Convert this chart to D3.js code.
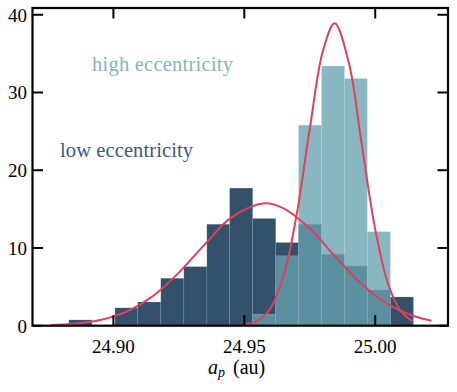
<!DOCTYPE html>
<html>
<head>
<meta charset="utf-8">
<script src="https://cdn.jsdelivr.net/npm/d3@7"></script>
<style>
  body { margin: 0; background: #fff; }
  svg text { font-family: "Liberation Serif", "DejaVu Serif", serif; }
</style>
</head>
<body>
<div id="chart"></div>
<script>
// histogram bin edges (au)
var binEdges = [24.883, 24.8918, 24.9006, 24.9093, 24.9181, 24.9269, 24.9357, 24.9444,
                24.9532, 24.962, 24.9707, 24.9795, 24.9883, 24.997, 25.0058, 25.0146];
// density values per bin
var lowEcc  = [0.75, 0, 2.3, 3.05, 6.1, 7.6, 13.05, 17.7, 13.8, 10.7, 13.05, 9.2, 7.7, 4.6, 3.7];
var highEcc = [0, 0, 0, 0, 0, 0, 0, 0, 1.5, 9.0, 25.8, 33.4, 31.8, 12.1, 0];

// fitted curves
var lowFitX  = [24.876, 24.885, 24.895, 24.905, 24.915, 24.925, 24.935, 24.945, 24.9577,
                24.965, 24.975, 24.985, 24.995, 25.005, 25.015, 25.0215];
var lowFitY  = [0.09, 0.25, 0.73, 1.8, 3.79, 6.83, 10.5, 13.9, 15.75,
                15.1, 12.5, 8.8, 5.31, 2.74, 1.21, 0.65];
var highFitX = [24.9495, 24.955, 24.96, 24.965, 24.97, 24.975, 24.98, 24.9845,
                24.99, 24.995, 25.0, 25.005, 25.01, 25.0143];
var highFitY = [0.12, 0.62, 2.25, 6.39, 14.3, 25.3, 35.3, 38.9,
                33.7, 23.0, 12.4, 5.29, 1.77, 0.57];

var xTicks = [24.90, 24.95, 25.00];
var yTicks = [0, 10, 20, 30, 40];

var W = 457, H = 392;
var m = {left: 32.5, right: 448, top: 8, bottom: 325.7};

var svg = d3.select("#chart").append("svg").attr("width", W).attr("height", H);

var x = d3.scaleLinear().domain([24.8691, 25.0278]).range([m.left, m.right]);
var y = d3.scaleLinear().domain([0, 40.87]).range([m.bottom, m.top]);

var dark = "#34516c", light = "rgb(103,162,176)", red = "#e0405a";

var bins = d3.range(lowEcc.length);

svg.append("g").selectAll("rect").data(bins).enter().append("rect")
    .attr("x", function(i) { return x(binEdges[i]); })
    .attr("width", function(i) { return x(binEdges[i+1]) - x(binEdges[i]); })
    .attr("y", function(i) { return y(lowEcc[i]); })
    .attr("height", function(i) { return y(0) - y(lowEcc[i]); })
    .attr("fill", dark)
    .attr("stroke", "rgba(255,255,255,0.12)").attr("stroke-width", 0.7);

svg.append("g").selectAll("rect").data(bins.filter(function(i){ return highEcc[i] > 0; })).enter().append("rect")
    .attr("x", function(i) { return x(binEdges[i]); })
    .attr("width", function(i) { return x(binEdges[i+1]) - x(binEdges[i]); })
    .attr("y", function(i) { return y(highEcc[i]); })
    .attr("height", function(i) { return y(0) - y(highEcc[i]); })
    .attr("fill", light).attr("fill-opacity", 0.78)
    .attr("stroke", "rgba(255,255,255,0.15)").attr("stroke-width", 0.7);

var line = d3.line().curve(d3.curveCatmullRom.alpha(0.5))
    .x(function(d) { return x(d[0]); }).y(function(d) { return y(d[1]); });

[[lowFitX, lowFitY], [highFitX, highFitY]].forEach(function(s) {
    svg.append("path").datum(d3.zip(s[0], s[1]))
        .attr("d", line).attr("fill", "none")
        .attr("stroke", red).attr("stroke-width", 2);
});

// frame
svg.append("rect").attr("x", m.left).attr("y", m.top)
    .attr("width", m.right - m.left).attr("height", m.bottom - m.top)
    .attr("fill", "none").attr("stroke", "#000").attr("stroke-width", 2.2);

// inward ticks on all sides
var tl = 10.5;
var tk = svg.append("g").attr("stroke", "#000").attr("stroke-width", 2);
xTicks.forEach(function(t) {
    tk.append("line").attr("x1", x(t)).attr("x2", x(t)).attr("y1", m.bottom).attr("y2", m.bottom - tl);
    tk.append("line").attr("x1", x(t)).attr("x2", x(t)).attr("y1", m.top).attr("y2", m.top + tl);
});
yTicks.forEach(function(t) {
    tk.append("line").attr("y1", y(t)).attr("y2", y(t)).attr("x1", m.left).attr("x2", m.left + tl);
    tk.append("line").attr("y1", y(t)).attr("y2", y(t)).attr("x1", m.right).attr("x2", m.right - tl);
});

var fs = 19;
svg.append("g").selectAll("text").data(xTicks).enter().append("text")
    .attr("x", function(d) { return x(d); }).attr("y", 352.7)
    .attr("text-anchor", "middle").attr("font-size", fs)
    .text(function(d) { return d3.format(".2f")(d); });

svg.append("g").selectAll("text").data(yTicks).enter().append("text")
    .attr("x", 27).attr("y", function(d) { return y(d) + 6.8; })
    .attr("text-anchor", "end").attr("font-size", fs)
    .text(function(d) { return d; });

var xl = svg.append("text").attr("x", 208).attr("y", 373.5).attr("font-size", 20);
xl.append("tspan").attr("font-style", "italic").text("a");
xl.append("tspan").attr("font-style", "italic").attr("font-size", 14).attr("dy", 3).text("p");
xl.append("tspan").attr("dy", -3).attr("dx", 8).text("(au)");

svg.append("text").attr("x", 92).attr("y", 70.7).attr("font-size", 20.5)
    .attr("fill", "#86b4c0").attr("textLength", 141).text("high eccentricity");
svg.append("text").attr("x", 60).attr("y", 156.7).attr("font-size", 20.5)
    .attr("fill", "#3c5a76").attr("textLength", 133).text("low eccentricity");
</script>
</body>
</html>
